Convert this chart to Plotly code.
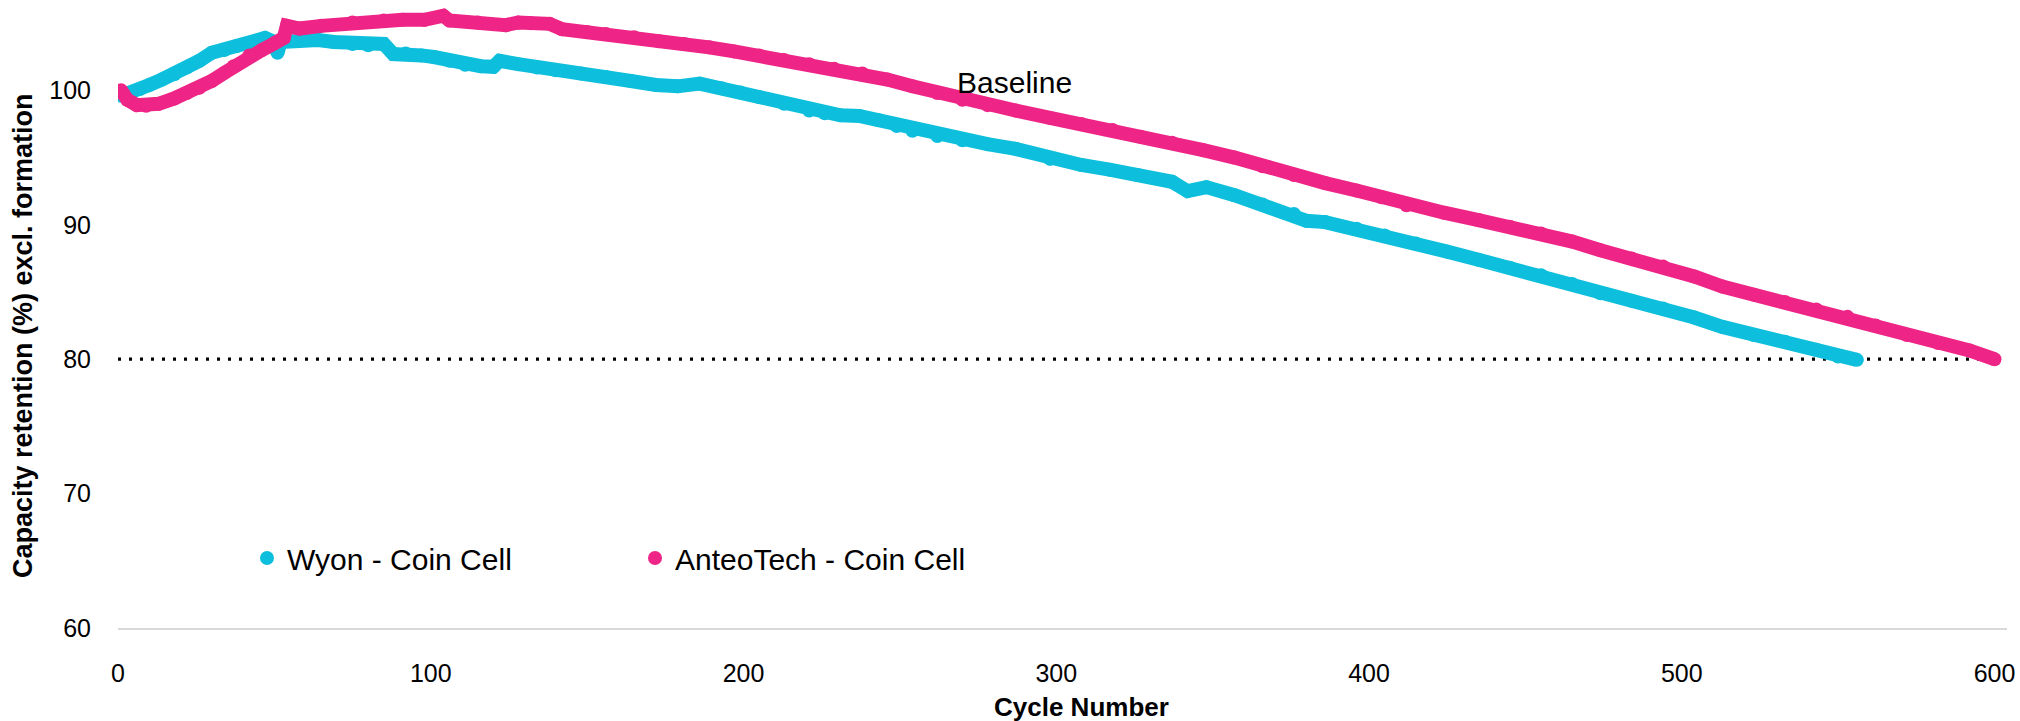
import plotly.graph_objects as go

# ---- Data ----
anteo_cycles = [1, 3, 6, 9, 13, 18, 22, 26, 30, 34, 37, 42, 46, 50, 53, 54, 58, 65, 75, 85,
                91, 98, 104, 106, 115, 124, 128, 132, 138, 142, 150, 156, 165, 173, 181, 189,
                197, 205, 213, 221, 229, 238, 246, 254, 262, 270, 278, 287, 298, 308, 318,
                327, 337, 347, 357, 366, 376, 386, 396, 404, 412, 424, 435, 445, 455, 465,
                474, 484, 494, 504, 513, 523, 533, 543, 553, 562, 572, 582, 592, 600]
anteo_values = [100.0, 99.3, 98.9, 98.85, 99.0, 99.4, 99.8, 100.2, 100.7, 101.3, 101.8, 102.6,
                103.0, 103.5, 103.9, 104.8, 104.6, 104.8, 105.05, 105.2, 105.25, 105.25, 105.55,
                105.2, 105.05, 104.85, 105.05, 105.0, 104.95, 104.55, 104.35, 104.2, 103.95,
                103.65, 103.45, 103.2, 102.9, 102.6, 102.25, 101.95, 101.6, 101.25, 100.8,
                100.3, 99.8, 99.3, 98.9, 98.5, 97.95, 97.5, 97.05, 96.55, 96.1, 95.55, 95.0,
                94.35, 93.7, 93.1, 92.55, 92.05, 91.45, 90.9, 90.35, 89.85, 89.35, 88.75, 88.1,
                87.5, 86.9, 86.15, 85.4, 84.8, 84.25, 83.7, 83.15, 82.5, 81.8, 81.2, 80.65, 80.0]

wyon_cycles = [1, 4, 7, 10, 14, 18, 22, 26, 30, 34, 38, 43, 47, 50, 51, 52, 58, 64, 69, 75,
               80, 85, 88, 92, 97, 101, 106, 111, 116, 120, 122, 128, 134, 140, 148, 156, 164,
               172, 179, 186, 193, 199, 205, 213, 221, 226, 231, 237, 243, 249, 254, 262, 270,
               278, 287, 298, 308, 317, 326, 337, 342, 348, 357, 366, 376, 380, 386, 396, 405,
               415, 425, 435, 445, 455, 465, 474, 484, 494, 504, 513, 523, 533, 543, 550, 556]
wyon_values = [99.6, 99.8, 100.1, 100.4, 100.8, 101.2, 101.7, 102.2, 102.8, 103.0, 103.3, 103.5,
               103.9, 103.6, 102.8, 103.6, 103.7, 103.75, 103.6, 103.45, 103.35, 103.45, 102.7,
               102.75, 102.6, 102.48, 102.2, 101.9, 101.8, 101.75, 102.2, 101.95, 101.7, 101.5,
               101.25, 101.0, 100.7, 100.4, 100.3, 100.5, 100.15, 99.85, 99.5, 99.0, 98.5, 98.3,
               98.15, 98.1, 97.8, 97.35, 97.0, 96.6, 96.28, 96.0, 95.65, 94.9, 94.45, 94.1, 93.7,
               93.2, 92.5, 92.8, 92.2, 91.5, 90.8, 90.3, 90.2, 89.7, 89.2, 88.6, 88.0, 87.4, 86.8,
               86.25, 85.6, 84.9, 84.35, 83.77, 83.1, 82.4, 81.8, 81.3, 80.7, 80.2, 79.95]

threshold_x = [0, 600]
threshold_y = [80, 80]

x_ticks = [0, 100, 200, 300, 400, 500, 600]
y_ticks = [60, 70, 80, 90, 100]

CYAN = "#0DBFDC"
PINK = "#EE2586"
FONT = "Liberation Sans, Arial, sans-serif"

# plot-area geometry in pixels
L, R, T, B = 118, 13, 3, 93
PW, PH = 2020 - L - R, 721 - T - B


def px_x(px):
    return (px - L) / PW


def px_y(py):
    return (721 - B - py) / PH


fig = go.Figure()

# 80% threshold dotted line
fig.add_trace(go.Scatter(x=threshold_x, y=threshold_y, mode="lines",
                         line=dict(color="black", width=3.3, dash="3px,8px"),
                         showlegend=False, hoverinfo="skip"))

for name, xs, ys, col in [("Wyon - Coin Cell", wyon_cycles, wyon_values, CYAN),
                          ("AnteoTech - Coin Cell", anteo_cycles, anteo_values, PINK)]:
    fig.add_trace(go.Scatter(x=xs, y=ys, mode="lines", line=dict(color=col, width=14),
                             showlegend=False, legendgroup=name, hoverinfo="skip"))
    fig.add_trace(go.Scatter(x=xs, y=ys, mode="markers", name=name, legendgroup=name,
                             marker=dict(color=col, size=14, line=dict(width=0))))

fig.add_annotation(x=286.5, y=100.6, xref="x", yref="y", text="Baseline",
                   showarrow=False, font=dict(family=FONT, size=30, color="black"),
                   xanchor="center", yanchor="middle")

fig.add_annotation(x=px_x(23), y=px_y(336), xref="paper", yref="paper",
                   text="<b>Capacity retention (%) excl. formation</b>",
                   showarrow=False, textangle=-90, font=dict(family=FONT, size=27, color="black"),
                   xanchor="center", yanchor="middle")

fig.add_annotation(x=px_x(1081), y=px_y(707), xref="paper", yref="paper",
                   text="<b>Cycle Number</b>", showarrow=False,
                   font=dict(family=FONT, size=26, color="black"),
                   xanchor="center", yanchor="middle")

fig.update_layout(
    width=2020, height=721,
    margin=dict(l=L, r=R, t=T, b=B),
    paper_bgcolor="white", plot_bgcolor="white",
    font=dict(family=FONT, size=25, color="black"),
    showlegend=True,
    legend=dict(orientation="h", x=px_x(247), xanchor="left",
                y=px_y(558), yanchor="middle",
                font=dict(family=FONT, size=30, color="black"),
                entrywidth=343, entrywidthmode="pixels",
                bgcolor="rgba(0,0,0,0)", itemclick=False, itemdoubleclick=False),
)

fig.update_xaxes(range=[0, 604], tickvals=x_ticks, showgrid=False, zeroline=False,
                 showline=True, linecolor="#D9D9D9", linewidth=1.5,
                 ticks="", ticklabelstandoff=22, tickfont=dict(family=FONT, size=25, color="black"))
fig.update_yaxes(range=[60, 106.5], tickvals=y_ticks, showgrid=False, zeroline=False,
                 showline=False, ticks="", ticklabelstandoff=26,
                 tickfont=dict(family=FONT, size=25, color="black"))

fig.write_html("out.html", config={"displayModeBar": False},
               post_script="document.body.style.margin='0';document.body.style.overflow='hidden';")
